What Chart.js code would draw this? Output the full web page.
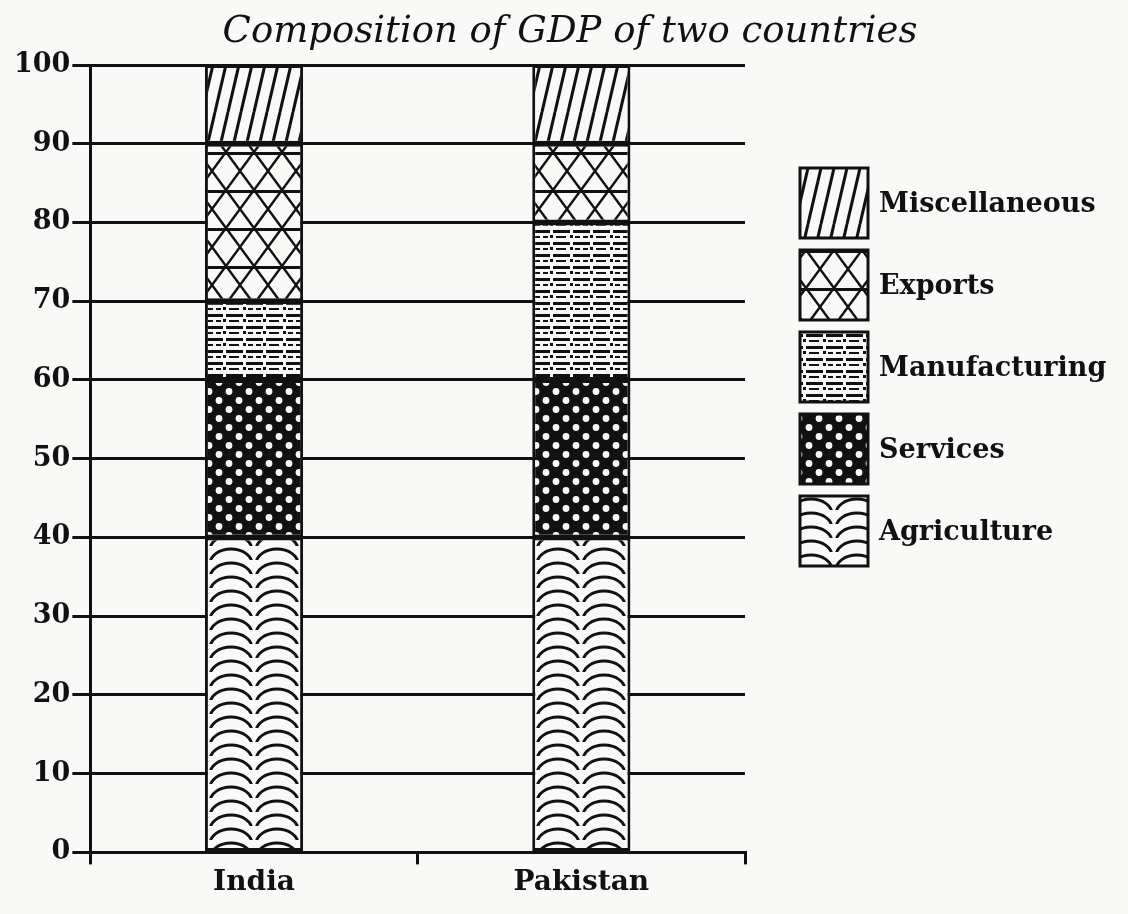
<!DOCTYPE html>
<html>
<head>
<meta charset="utf-8">
<script src="https://cdn.jsdelivr.net/npm/chart.js@4.4.0/dist/chart.umd.min.js"></script>
<style>
  html, body { margin: 0; padding: 0; background: #f9f9f7; }
  #wrap { width: 1128px; height: 914px; }
</style>
</head>
<body>
<div id="wrap"><canvas id="gdpChart" width="1128" height="914"></canvas></div>
<script>
// data (percent of GDP)
const countries = ['India', 'Pakistan'];
const sectors = ['Agriculture', 'Services', 'Manufacturing', 'Exports', 'Miscellaneous'];
const agriculture = [40, 40];
const services = [20, 20];
const manufacturing = [10, 20];
const exportsShare = [20, 10];
const miscellaneous = [10, 10];
const yTicks = [0, 10, 20, 30, 40, 50, 60, 70, 80, 90, 100];

const INK = '#111';
const PAPER = '#f9f9f7';

// hatch tiles, one per sector
function tile(w, h, draw) {
    const c = document.createElement('canvas');
    c.width = w;
    c.height = h;
    const g = c.getContext('2d');
    g.fillStyle = PAPER;
    g.fillRect(0, 0, w, h);
    g.strokeStyle = INK;
    g.fillStyle = INK;
    g.lineCap = 'butt';
    draw(g, w, h);
    return c;
}

const tiles = {
    Miscellaneous: tile(13, 56, (g, w, h) => {
        g.lineWidth = 3;
        for (let k = -1; k <= 1; k++) {
            g.beginPath();
            g.moveTo(k * w, h);
            g.lineTo((k + 1) * w, 0);
            g.stroke();
        }
    }),
    Exports: tile(28, 38, (g, w, h) => {
        g.lineWidth = 2.5;
        g.beginPath();
        g.moveTo(0, 0); g.lineTo(w, h);
        g.moveTo(w, 0); g.lineTo(0, h);
        g.moveTo(-w, 0); g.lineTo(0, h);
        g.moveTo(w, 0); g.lineTo(2 * w, h);
        g.moveTo(0, 0); g.lineTo(-w, h);
        g.moveTo(2 * w, 0); g.lineTo(w, h);
        g.stroke();
        g.lineWidth = 3;
        g.beginPath();
        g.moveTo(0, 1.5); g.lineTo(w, 1.5);
        g.stroke();
    }),
    Manufacturing: tile(40, 12, (g, w, h) => {
        g.fillRect(0, 2, 9, 3);
        g.fillRect(12, 2, 17, 3);
        g.fillRect(32, 2, 8, 3);
        g.fillRect(2, 8, 5, 2);
        g.fillRect(9, 7, 3, 3);
        g.fillRect(15, 8, 10, 2);
        g.fillRect(29, 7, 3, 3);
        g.fillRect(34, 8, 5, 2);
    }),
    Services: tile(20, 18, (g, w, h) => {
        g.fillRect(0, 0, w, h);
        g.fillStyle = PAPER;
        [[5, 4.5], [15, 13.5], [15, -4.5], [-5, 13.5], [25, 13.5], [5, 22.5]].forEach(([x, y]) => {
            g.beginPath();
            g.arc(x, y, 3.4, 0, Math.PI * 2);
            g.fill();
        });
    }),
    Agriculture: tile(46, 14, (g, w, h) => {
        g.lineWidth = 2.8;
        g.beginPath();
        g.ellipse(w / 2, h + 4, 21, h + 1, 0, Math.PI, Math.PI * 2);
        g.stroke();
    })
};

const patternCache = {};
const pctx = document.createElement('canvas').getContext('2d');

// centre the tile grid on a given x so the columns sit evenly in a bar
function patternFor(name, centerX, offsetY) {
    const offsetX = centerX - tiles[name].width;
    const key = name + ':' + Math.round(offsetX) + ':' + Math.round(offsetY);
    if (!patternCache[key]) {
        const p = pctx.createPattern(tiles[name], 'repeat');
        p.setTransform(new DOMMatrix().translate(Math.round(offsetX), Math.round(offsetY)));
        patternCache[key] = p;
    }
    return patternCache[key];
}

function barFill(name) {
    return function(context) {
        const chart = context.chart;
        const xs = chart.scales && chart.scales.x;
        if (!xs || context.dataIndex === undefined) {
            return patternFor(name, 0, 0);
        }
        return patternFor(name, xs.getPixelForValue(context.dataIndex), 0);
    };
}

const seriesValues = {
    Agriculture: agriculture,
    Services: services,
    Manufacturing: manufacturing,
    Exports: exportsShare,
    Miscellaneous: miscellaneous
};

const datasets = sectors.map(name => ({
    label: name,
    data: seriesValues[name],
    backgroundColor: barFill(name),
    borderColor: INK,
    borderWidth: 3,
    borderSkipped: false,
    barPercentage: 0.3,
    categoryPercentage: 1
}));

// legend and title drawn by hand so they sit where the print has them
const decorations = {
    id: 'decorations',
    afterDraw(chart) {
        const ctx = chart.ctx;
        ctx.save();
        ctx.fillStyle = INK;
        ctx.font = 'italic 37px "DejaVu Serif"';
        ctx.textAlign = 'center';
        ctx.textBaseline = 'middle';
        ctx.fillText('Composition of GDP of two countries', 570, 32);

        const order = sectors.slice().reverse();
        order.forEach((name, i) => {
            const top = 168 + i * 82;
            ctx.fillStyle = patternFor(name, 834, top);
            ctx.fillRect(800, top, 68, 70);
            ctx.lineWidth = 3;
            ctx.strokeStyle = INK;
            ctx.strokeRect(800, top, 68, 70);
            ctx.fillStyle = INK;
            ctx.font = 'bold 27px "DejaVu Serif"';
            ctx.textAlign = 'left';
            ctx.textBaseline = 'middle';
            ctx.fillText(name, 879, top + 37);
        });
        ctx.restore();
    }
};

const paper = {
    id: 'paper',
    beforeDraw(chart) {
        const ctx = chart.ctx;
        ctx.save();
        ctx.fillStyle = PAPER;
        ctx.fillRect(0, 0, chart.width, chart.height);
        ctx.restore();
    }
};

new Chart(document.getElementById('gdpChart'), {
    type: 'bar',
    data: { labels: countries, datasets: datasets },
    plugins: [paper, decorations],
    options: {
        responsive: false,
        animation: false,
        layout: { padding: { left: 12, right: 383, top: 65, bottom: 12 } },
        plugins: {
            legend: { display: false },
            title: { display: false },
            tooltip: { enabled: false }
        },
        scales: {
            x: {
                stacked: true,
                offset: true,
                grid: {
                    display: true,
                    offset: true,
                    drawOnChartArea: false,
                    drawTicks: true,
                    tickLength: 12,
                    color: INK,
                    lineWidth: 3
                },
                border: { display: true, color: INK, width: 3 },
                ticks: {
                    color: INK,
                    padding: 2,
                    font: { family: 'DejaVu Serif', size: 28, weight: 'bold' }
                }
            },
            y: {
                stacked: true,
                min: 0,
                max: 100,
                afterBuildTicks(axis) {
                    axis.ticks = yTicks.map(v => ({ value: v }));
                },
                grid: {
                    color: INK,
                    lineWidth: 3,
                    tickLength: 18,
                    drawTicks: true
                },
                border: { display: true, color: INK, width: 3 },
                ticks: {
                    color: INK,
                    padding: 2,
                    font: { family: 'DejaVu Serif', size: 27, weight: 'bold' }
                }
            }
        }
    }
});
</script>
</body>
</html>
